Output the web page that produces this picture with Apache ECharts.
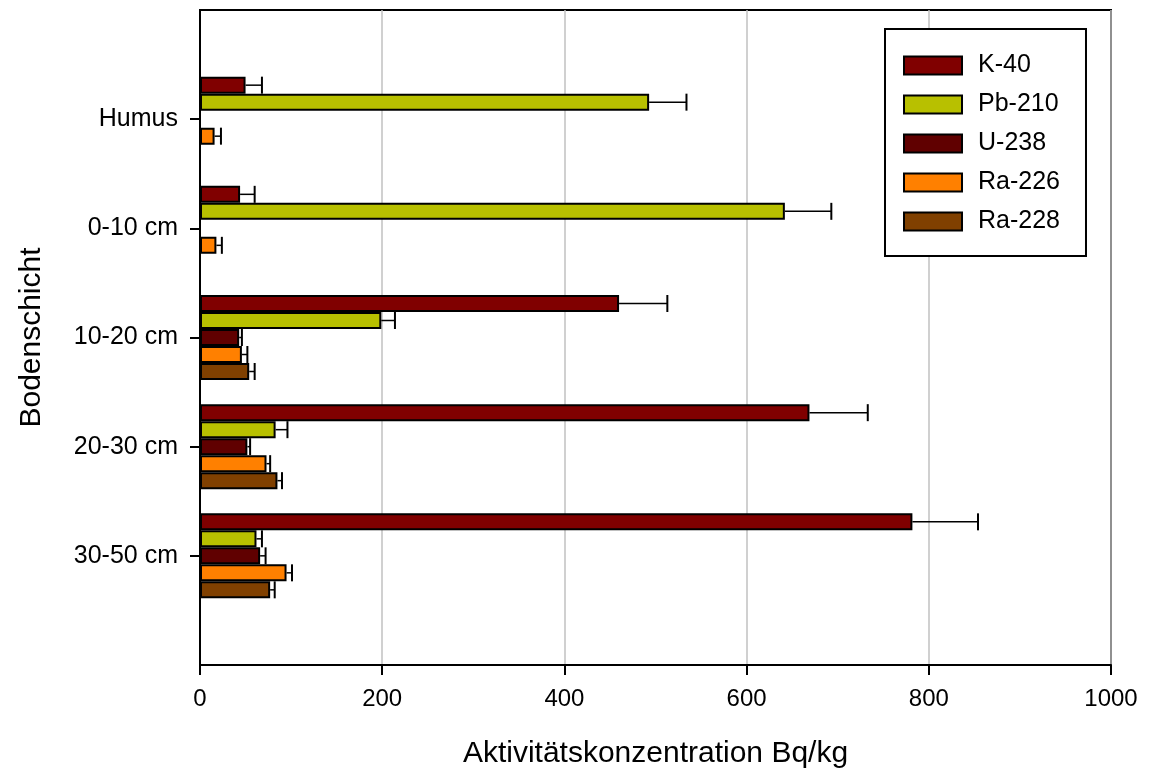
<!DOCTYPE html>
<html>
<head>
<meta charset="utf-8">
<script src="https://cdn.jsdelivr.net/npm/echarts@6/dist/echarts.min.js"></script>
<style>
html,body{margin:0;padding:0;background:#fff;}
#chart{width:1159px;height:774px;}
</style>
</head>
<body>
<div id="chart"></div>
<script>
// ---- data ----
const categories = ['Humus', '0-10 cm', '10-20 cm', '20-30 cm', '30-50 cm'];
const seriesNames = ['K-40', 'Pb-210', 'U-238', 'Ra-226', 'Ra-228'];
const k40 = [50, 44, 460, 669, 782];
const k40Err = [18, 16, 53, 64, 72];
const pb210 = [493, 642, 199, 83, 62];
const pb210Err = [41, 51, 15, 13, 6];
const u238 = [null, null, 43, 52, 66];
const u238Err = [null, null, 3, 3, 6];
const ra226 = [16, 18, 46, 73, 95];
const ra226Err = [7, 6, 6, 4, 6];
const ra228 = [null, null, 54, 85, 77];
const ra228Err = [null, null, 6, 5, 5];
const xTicks = [0, 200, 400, 600, 800, 1000];

const values = [k40, pb210, u238, ra226, ra228];
const errors = [k40Err, pb210Err, u238Err, ra226Err, ra228Err];
const colors = ['#800000', '#b8c000', '#600000', '#ff8000', '#804000'];

const FONT = 'Liberation Sans, Arial, sans-serif';
const BAR_W = 17;

// padded category list (empty slot before and after)
const catPadded = [''].concat(categories, ['']);

const series = [];
values.forEach((vals, i) => {
  series.push({
    name: seriesNames[i],
    type: 'bar',
    barWidth: BAR_W,
    barGap: '0%',
    data: [null].concat(vals, [null]),
    itemStyle: { color: colors[i], borderColor: '#000', borderWidth: 2 },
    z: 2
  });
});
values.forEach((vals, i) => {
  const d = [];
  vals.forEach((v, j) => {
    if (v !== null && errors[i][j] !== null) d.push([v, errors[i][j], j + 1]);
  });
  const offset = (i - 2) * BAR_W;
  series.push({
    name: seriesNames[i] + ' err',
    type: 'custom',
    data: d,
    encode: { x: 0, y: 2 },
    z: 3,
    silent: true,
    renderItem: function (params, api) {
      const v = api.value(0), e = api.value(1), c = api.value(2);
      const s = api.coord([v, c]);
      const t = api.coord([v + e, c]);
      const y = s[1] + offset;
      return {
        type: 'group',
        children: [
          { type: 'line', shape: { x1: s[0], y1: y, x2: t[0], y2: y }, style: { stroke: '#000', lineWidth: 1.5 } },
          { type: 'line', shape: { x1: t[0], y1: y - 8.5, x2: t[0], y2: y + 8.5 }, style: { stroke: '#000', lineWidth: 2 } }
        ]
      };
    }
  });
});

const chart = echarts.init(document.getElementById('chart'));
chart.setOption({
  animation: false,
  backgroundColor: '#fff',
  textStyle: { fontFamily: FONT },
  grid: {
    left: 200, top: 10, width: 911, height: 655,
    show: true, borderColor: '#000', borderWidth: 2, backgroundColor: 'transparent'
  },
  legend: {
    data: seriesNames,
    orient: 'vertical',
    left: 885, top: 29,
    padding: [24, 26, 22, 18],
    itemWidth: 58, itemHeight: 18, itemGap: 14,
    backgroundColor: '#fff',
    borderColor: '#000', borderWidth: 2,
    textStyle: { fontFamily: FONT, fontSize: 25, color: '#000', padding: [0, 0, 0, 11] },
    icon: 'rect'
  },
  xAxis: {
    type: 'value',
    min: xTicks[0], max: xTicks[xTicks.length - 1], interval: 200,
    name: 'Aktivitätskonzentration Bq/kg',
    nameLocation: 'middle', nameGap: 74,
    nameTextStyle: { fontFamily: FONT, fontSize: 30, color: '#000' },
    axisLine: { show: true, lineStyle: { color: '#000', width: 2 } },
    axisTick: { show: true, inside: false, length: 10, lineStyle: { color: '#000', width: 2 } },
    axisLabel: { fontFamily: FONT, fontSize: 24, color: '#000', margin: 22, formatter: function (v) { return String(v); } },
    splitLine: { show: true, lineStyle: { color: '#c0c0c0', width: 1.5 } }
  },
  yAxis: {
    type: 'category',
    data: catPadded,
    inverse: true,
    boundaryGap: false,
    name: 'Bodenschicht',
    nameLocation: 'middle', nameGap: 153,
    nameTextStyle: { fontFamily: FONT, fontSize: 30, color: '#000' },
    axisLine: { show: true, onZero: false, lineStyle: { color: '#000', width: 2 } },
    axisTick: {
      show: true, length: 10, lineStyle: { color: '#000', width: 2 },
      interval: function (idx) { return idx > 0 && idx < catPadded.length - 1; }
    },
    axisLabel: { fontFamily: FONT, fontSize: 25, color: '#000', margin: 22, interval: 0 },
    splitLine: { show: false }
  },
  series: series
});
</script>
</body>
</html>
